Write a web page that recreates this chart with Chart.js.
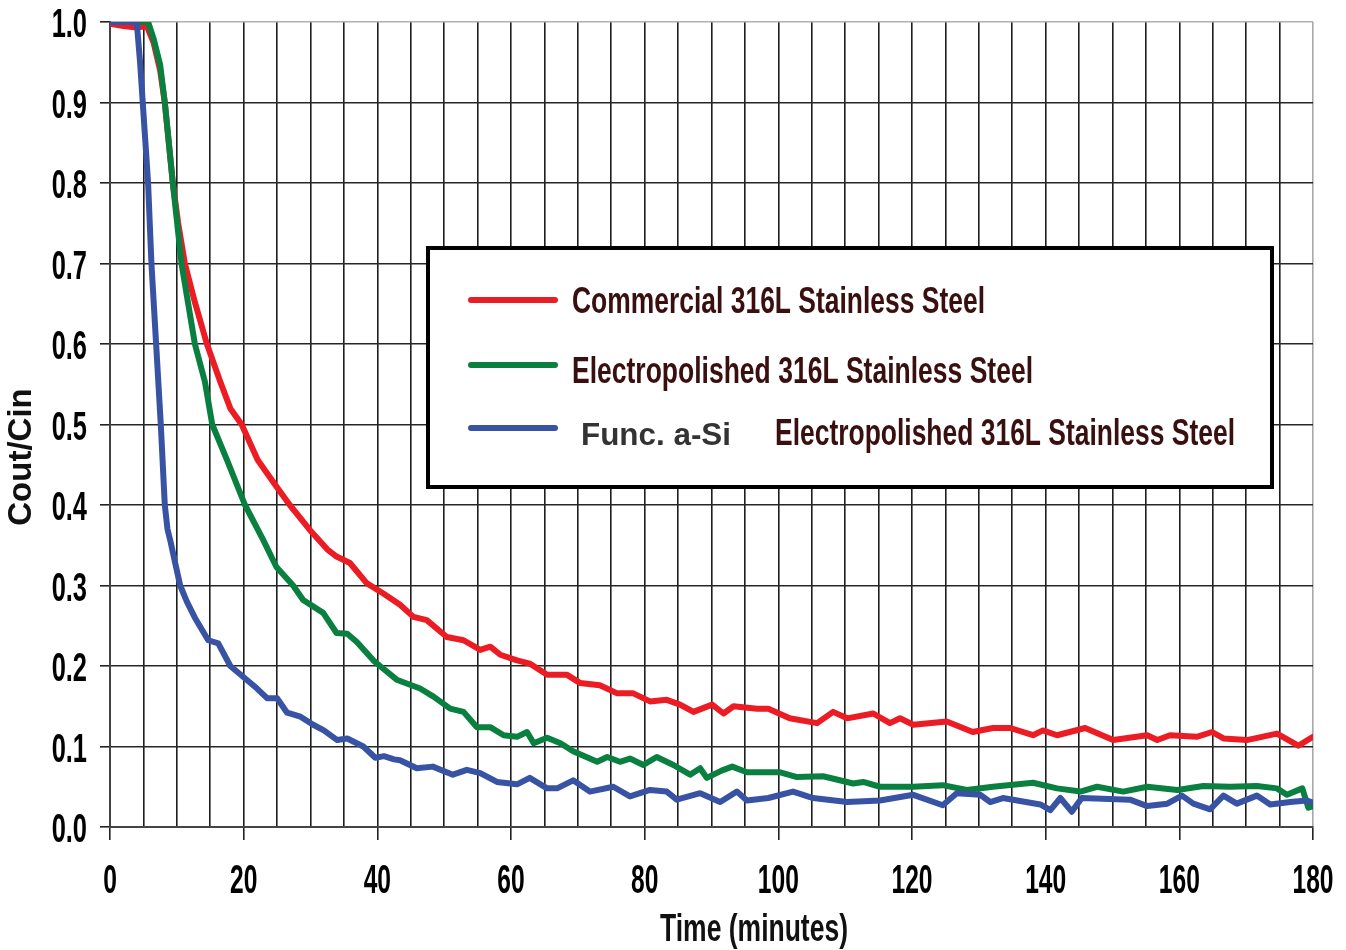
<!DOCTYPE html>
<html>
<head>
<meta charset="utf-8">
<script src="https://cdn.jsdelivr.net/npm/chart.js@4.4.1/dist/chart.umd.min.js"></script>
<style>
html,body{margin:0;padding:0;background:#fff;}
#wrap{width:1346px;height:950px;position:relative;}
</style>
</head>
<body>
<div id="wrap"><canvas id="c" width="1346" height="950"></canvas></div>
<script>
// ---- data (time in minutes, Cout/Cin) ----
const commercial = [[0,0.998],[2,0.995],[4,0.993],[5.5,0.995],[6.5,0.975],[7.5,0.94],[8.2,0.9],[9.4,0.8],[10.2,0.75],[11.2,0.7],[12.7,0.652],[14.5,0.6],[16.5,0.553],[18,0.52],[19.7,0.5],[22.1,0.456],[24.9,0.423],[26.9,0.4],[29.9,0.369],[32.5,0.345],[33.9,0.336],[35.9,0.328],[38.4,0.303],[40.9,0.29],[43.4,0.276],[45.4,0.261],[47.4,0.257],[50.4,0.236],[52.9,0.232],[55.4,0.22],[56.9,0.224],[58.4,0.214],[60.9,0.207],[62.8,0.203],[65.4,0.189],[68.4,0.189],[70.3,0.179],[73.3,0.176],[75.9,0.166],[78.3,0.166],[80.8,0.156],[83.3,0.158],[85.3,0.152],[87.3,0.143],[90.1,0.152],[91.8,0.141],[93.3,0.15],[96.8,0.147],[98.5,0.147],[101.7,0.135],[105.8,0.129],[108.2,0.143],[110.3,0.135],[114.2,0.141],[116.7,0.129],[118.2,0.135],[120.2,0.127],[125.2,0.131],[129.1,0.118],[132.1,0.123],[134.7,0.123],[138.1,0.114],[139.6,0.12],[141.7,0.114],[143.6,0.118],[145.9,0.123],[150.1,0.108],[155.2,0.114],[156.7,0.108],[158.6,0.114],[162.6,0.112],[164.9,0.118],[166.6,0.11],[170.1,0.108],[174.6,0.116],[177.8,0.101],[180,0.112]];
const electropolished = [[0,1.0],[3,1.0],[5.7,1.0],[6.5,0.98],[7.5,0.947],[8.2,0.9],[9.4,0.8],[10.7,0.7],[12.7,0.6],[14.2,0.553],[15.3,0.5],[17.5,0.456],[20.2,0.4],[22.9,0.357],[24.9,0.323],[27.4,0.3],[28.9,0.282],[31.9,0.266],[33.9,0.241],[35.5,0.24],[36.9,0.23],[39.4,0.207],[40.4,0.2],[42.9,0.183],[44.5,0.178],[46.4,0.172],[48.4,0.162],[50.9,0.147],[52.9,0.143],[54.9,0.124],[56.9,0.124],[58.9,0.114],[60.9,0.112],[62.4,0.118],[63.4,0.104],[65.4,0.111],[67.4,0.104],[69.3,0.094],[72.9,0.081],[74.4,0.087],[76.3,0.081],[77.8,0.085],[79.8,0.077],[81.8,0.087],[84.3,0.077],[86.8,0.065],[88.3,0.073],[89.3,0.061],[91.5,0.07],[93.1,0.075],[95.3,0.068],[100.3,0.068],[102.8,0.062],[106.7,0.063],[111.2,0.054],[112.7,0.056],[115.2,0.05],[120.2,0.05],[124.6,0.052],[128.2,0.046],[132.1,0.05],[138.1,0.055],[141.7,0.048],[145.2,0.044],[147.7,0.05],[151.6,0.044],[155.2,0.05],[159.7,0.046],[163.6,0.051],[167.6,0.05],[171.6,0.051],[174.6,0.048],[176.1,0.04],[178.4,0.048],[179.3,0.024],[180,0.026]];
const funcASi = [[0,1.0],[2,1.0],[4.0,1.0],[4.5,0.95],[4.9,0.9],[5.3,0.85],[5.7,0.8],[6.2,0.7],[6.9,0.6],[7.6,0.5],[8.2,0.4],[8.6,0.37],[9.1,0.353],[9.7,0.33],[10.5,0.3],[11.5,0.28],[12.7,0.26],[14.7,0.232],[16.2,0.228],[18,0.2],[20,0.186],[22,0.172],[23.5,0.16],[25,0.16],[26.5,0.142],[28.5,0.137],[30.4,0.127],[32,0.12],[34,0.108],[35.5,0.11],[37.9,0.1],[39.7,0.086],[41,0.088],[42.5,0.084],[43.4,0.083],[45.9,0.073],[48.3,0.075],[51.3,0.065],[53.4,0.071],[55.4,0.067],[57.9,0.056],[60.9,0.053],[62.8,0.061],[65.4,0.048],[66.9,0.048],[69.3,0.058],[71.8,0.044],[75.3,0.05],[77.8,0.038],[80.8,0.046],[83.3,0.044],[84.8,0.034],[88.3,0.042],[91.3,0.031],[93.8,0.044],[95.3,0.033],[98.5,0.036],[102.2,0.044],[105.2,0.036],[110.3,0.031],[115.2,0.033],[120.2,0.04],[124.6,0.027],[126.7,0.042],[130.2,0.04],[131.7,0.031],[133.6,0.036],[139.2,0.028],[140.7,0.021],[142.2,0.036],[143.9,0.019],[145.4,0.036],[152.6,0.034],[155.2,0.026],[158.2,0.029],[160.4,0.039],[162.1,0.029],[164.6,0.022],[166.6,0.039],[168.6,0.029],[171.6,0.039],[173.6,0.028],[176.6,0.031],[179.1,0.033],[180,0.03]];

const seriesNames = ['Commercial 316L Stainless Steel','Electropolished 316L Stainless Steel','Func. a-Si','Electropolished 316L Stainless Steel'];
const xLabelEvery = 20;
const xGridStep = 5;
const yTickStep = 0.1;
const xTitle = 'Time (minutes)';
const yTitle = 'Cout/Cin';

const RED = '#ec1c24', GREEN = '#0a8040', BLUE = '#3953a4';
const SANS = "'Liberation Sans', Arial, sans-serif";
const toXY = arr => arr.map(p => ({x:p[0], y:p[1]}));

// draw text horizontally condensed by factor s
function condText(ctx, text, x, y, s, font, color, align){
  ctx.save();
  ctx.font = font; ctx.fillStyle = color; ctx.textBaseline = 'alphabetic'; ctx.textAlign = align || 'left';
  ctx.translate(x, y); ctx.scale(s, 1);
  ctx.fillText(text, 0, 0);
  ctx.restore();
}
// draw text condensed to a given width
function fitText(ctx, text, x, y, w, font, color){
  ctx.save(); ctx.font = font;
  const m = ctx.measureText(text).width;
  ctx.restore();
  condText(ctx, text, x, y, w / m, font, color, 'left');
}

const decor = {
  id: 'decor',
  afterDraw(chart){
    const ctx = chart.ctx;
    const xs = chart.scales.x, ys = chart.scales.y;
    // tick labels, placed by the library's scales
    const tickFont = "bold 41px " + SANS;
    xs.ticks.forEach(t => {
      if (t.value % xLabelEvery === 0) condText(ctx, String(t.value), xs.getPixelForValue(t.value), 893, 0.6, tickFont, '#000', 'center');
    });
    ys.ticks.forEach(t => {
      condText(ctx, t.value.toFixed(1), 87, ys.getPixelForValue(t.value) + 15, 0.62, tickFont, '#000', 'right');
    });
    // legend box
    ctx.save();
    ctx.fillStyle = '#fff';
    ctx.fillRect(428, 248, 844, 239);
    ctx.lineWidth = 4; ctx.strokeStyle = '#000';
    ctx.strokeRect(428, 248, 844, 239);
    const cols = [RED, GREEN, BLUE];
    const ly = [300, 365, 428];
    ctx.lineCap = 'round'; ctx.lineWidth = 6;
    cols.forEach((c,i)=>{ ctx.strokeStyle=c; ctx.beginPath(); ctx.moveTo(471, ly[i]); ctx.lineTo(555, ly[i]); ctx.stroke(); });
    ctx.restore();
    const brown = '#3a0f0f';
    const legFont = "bold 37px " + SANS;
    fitText(ctx, seriesNames[0], 572, 313, 413, legFont, brown);
    fitText(ctx, seriesNames[1], 572, 383, 461, legFont, brown);
    fitText(ctx, seriesNames[2], 581, 445, 150, "bold 31px " + SANS, '#333');
    fitText(ctx, seriesNames[3], 775, 445, 460, legFont, brown);
    // axis titles
    fitText(ctx, xTitle, 660, 941, 188, "bold 38px " + SANS, '#111');
    ctx.save();
    ctx.translate(31, 457); ctx.rotate(-Math.PI/2);
    ctx.font = "bold 33px " + SANS;
    ctx.fillStyle = '#111'; ctx.textAlign = 'center'; ctx.textBaseline = 'alphabetic';
    ctx.fillText(yTitle, 0, 0);
    ctx.restore();
  }
};

const ds = (label, data, color, order) => ({label, data: toXY(data), borderColor: color, backgroundColor: color,
  borderWidth: 6, pointRadius: 0, tension: 0, fill: false, order, borderJoinStyle: 'round', borderCapStyle: 'round'});

new Chart(document.getElementById('c'), {
  type: 'line',
  data: { datasets: [
    ds(seriesNames[0], commercial, RED, 3),
    ds(seriesNames[1], electropolished, GREEN, 2),
    ds(seriesNames[2] + ' ' + seriesNames[3], funcASi, BLUE, 1)
  ]},
  options: {
    responsive: false, animation: false, devicePixelRatio: 1,
    layout: { padding: { top: 22, right: 33, left: 0, bottom: 0 } },
    plugins: { legend: { display: false }, tooltip: { enabled: false } },
    scales: {
      x: {
        type: 'linear', min: 0, max: 180,
        afterFit: s => { s.height = 123; },
        ticks: { display: false, stepSize: xGridStep, autoSkip: false, maxRotation: 0 },
        grid: { color: c => (c.tick && c.tick.value === 180 ? '#a8a8a8' : '#1e1e1e'), lineWidth: 1.6,
          tickLength: 13, tickColor: c => (c.tick && c.tick.value % xLabelEvery === 0 ? '#222' : 'rgba(0,0,0,0)'), tickWidth: 1.6 },
        border: { color: '#444', width: 2 }
      },
      y: {
        type: 'linear', min: 0, max: 1,
        afterFit: s => { s.width = 110; },
        ticks: { display: false, stepSize: yTickStep },
        grid: { color: c => (c.tick && Math.abs(c.tick.value - 1) < 1e-6 ? '#b0b0b0' : '#262626'), lineWidth: 1.6,
          tickLength: 10, tickColor: '#222', tickWidth: 1.6 },
        border: { color: '#444', width: 2 }
      }
    }
  },
  plugins: [decor]
});
</script>
</body>
</html>
